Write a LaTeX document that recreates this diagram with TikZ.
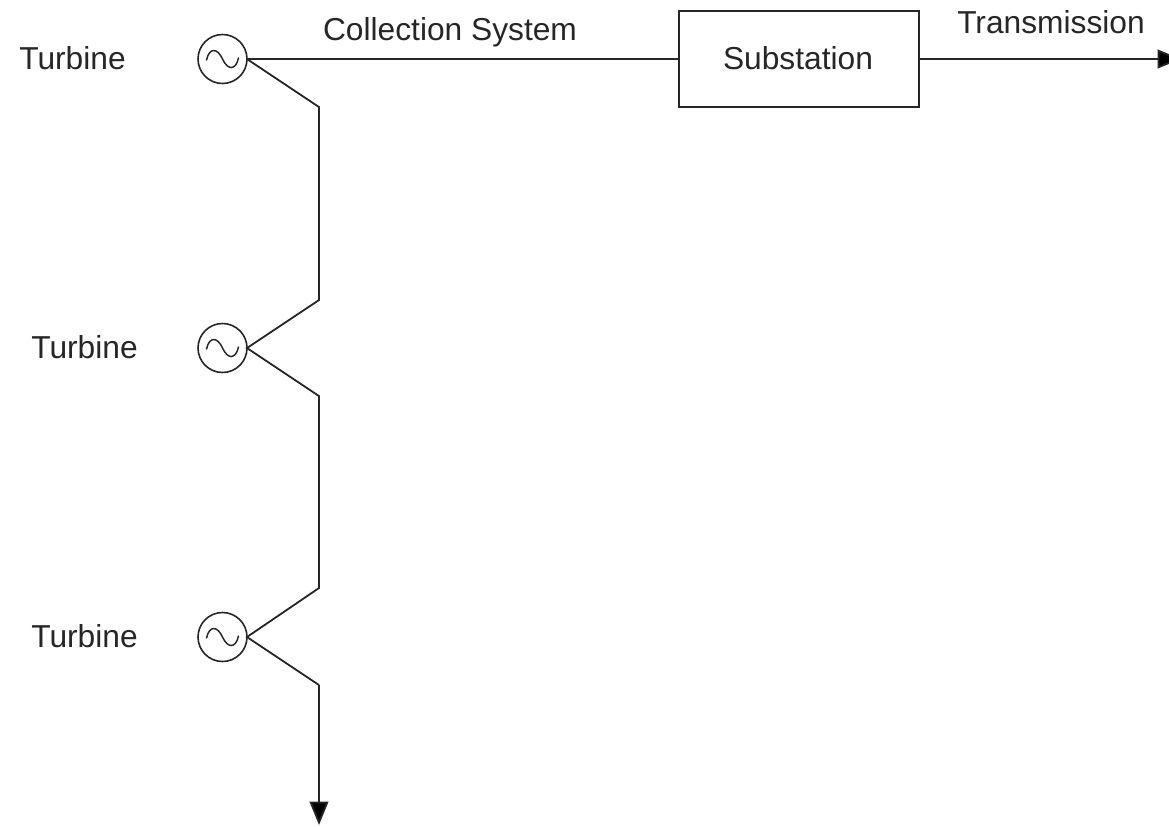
\documentclass[tikz,border=0pt]{standalone}
\usepackage{fontspec}
\setmainfont{Liberation Sans}
\usetikzlibrary{arrows.meta,calc}
\tikzset{
  x=0.75pt,y=-0.75pt,
  wire/.style={draw=black!85,line width=1.35pt,line join=miter},
  gen/.style={circle,draw=black!85,line width=1.2pt,minimum size=36.75pt,inner sep=0pt,outer sep=0pt},
  box/.style={rectangle,draw=black!85,line width=1.1pt,minimum width=180pt,minimum height=72pt,inner sep=0pt,outer sep=0pt},
  lab/.style={font=\fontsize{23.8pt}{26pt}\selectfont,text=black!85,inner sep=0pt,outer sep=0pt},
  tip/.style={-{Triangle[length=17.5pt,width=14pt,fill=black]}},
  wave/.style={draw=black!85,line width=1.1pt,line cap=round}
}
\newcommand{\acwave}[1]{%
  \draw[wave] ($(#1.center)+(-16,1)$) .. controls ($(#1.center)+(-13,-12)$) and ($(#1.center)+(-5,-11)$) .. (#1.center)
    .. controls ($(#1.center)+(5,11)$) and ($(#1.center)+(13,12)$) .. ($(#1.center)+(16,-1)$);}
\begin{document}
\begin{tikzpicture}
\useasboundingbox (0,0) rectangle (1169,826);
\clip (0,0) rectangle (1169,826);
\node[gen] (g1) at (222.5,59) {};
\node[gen] (g2) at (222.5,348) {};
\node[gen] (g3) at (222.5,637) {};
\acwave{g1}\acwave{g2}\acwave{g3}
\node[box] (sub) at (799,59) {};
\node[lab] (subt) at (798,58) {Substation};
\node[lab,anchor=center] (t1) at (72.5,58) {Turbine};
\node[lab,anchor=center] (t2) at (84.5,347) {Turbine};
\node[lab,anchor=center] (t3) at (84.5,636) {Turbine};
\node[lab] (cs) at (450,32) {Collection System};
\node[lab] (tr) at (1051,22) {Transmission};
\coordinate (a1) at (319,107);
\coordinate (a2) at (319,300);
\coordinate (b1) at (319,396);
\coordinate (b2) at (319,588);
\coordinate (c1) at (319,685);
\coordinate (endS) at (319,825);
\coordinate (endT) at (1181,59);
\draw[wire] (g1.east) -- (sub.west);
\draw[wire,tip] (sub.east) -- (endT);
\draw[wire] (g1.east) -- (a1) -- (a2) -- (g2.east) -- (b1) -- (b2) -- (g3.east) -- (c1);
\draw[wire,tip] (c1) -- (endS);
\end{tikzpicture}
\end{document}
